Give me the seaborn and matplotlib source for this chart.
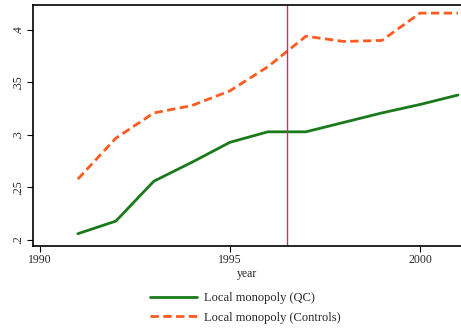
import matplotlib
matplotlib.use("Agg")
import matplotlib.pyplot as plt
import seaborn as sns
import pandas as pd
from matplotlib.lines import Line2D

years = [1991, 1992, 1993, 1994, 1995, 1996, 1997, 1998, 1999, 2000, 2001]
qc = [0.206, 0.218, 0.256, 0.274, 0.293, 0.303, 0.303, 0.312, 0.321, 0.329, 0.338]
controls = [0.258, 0.297, 0.321, 0.328, 0.342, 0.365, 0.394, 0.389, 0.390, 0.416, 0.416]
series_names = ["Local monopoly (QC)", "Local monopoly (Controls)"]
x_ticks = [1990, 1995, 2000]
y_ticks = [0.2, 0.25, 0.3, 0.35, 0.4]
y_tick_labels = [".2", ".25", ".3", ".35", ".4"]
policy_year = 1996.5

df = pd.DataFrame({
    "year": years * 2,
    "share": qc + controls,
    "group": [series_names[0]] * len(years) + [series_names[1]] * len(years),
})

sns.set_style("white")
plt.rcParams["font.family"] = ["Liberation Serif", "DejaVu Serif"]

fig = plt.figure(figsize=(4.61, 3.28), dpi=100)
ax = fig.add_axes([0.0716, 0.25, 0.9284, 0.735])

green, orange = "#1a7a1a", "#ff5a1f"
sns.lineplot(data=df, x="year", y="share", hue="group", style="group",
             palette=[green, orange], dashes=[(None, None), (3.0, 1.6)],
             linewidth=2.0, ax=ax, legend=False)
ax.axvline(policy_year, color="#c8336b", linewidth=1.0)

ax.set_xlim(1989.82, 2001.08)
ax.set_ylim(0.1943, 0.4238)
ax.set_xticks(x_ticks)
ax.set_xticklabels([str(t) for t in x_ticks], fontsize=8.5)
ax.set_yticks(y_ticks)
ax.set_yticklabels(y_tick_labels, fontsize=8.5, rotation=90, va="center")
ax.tick_params(axis="both", direction="out", length=4, width=0.8, color="black", pad=2,
               left=True, bottom=True)
ax.set_xlabel("year", fontsize=8.5, labelpad=1)
ax.set_ylabel("")

for side in ["left", "bottom", "top"]:
    ax.spines[side].set_visible(True)
    ax.spines[side].set_color("black")
    ax.spines[side].set_linewidth(1.2)
ax.spines["right"].set_visible(False)

handles = [
    Line2D([0], [0], color=green, linewidth=2.0),
    Line2D([0], [0], color=orange, linewidth=2.0, dashes=(3.0, 1.6)),
]
fig.legend(handles, series_names, loc="upper left", bbox_to_anchor=(0.325, 0.109),
           frameon=False, fontsize=9, handlelength=3.8, handletextpad=0.5,
           labelspacing=0.6, borderaxespad=0, borderpad=0)

fig.savefig("out.png", dpi=100)
